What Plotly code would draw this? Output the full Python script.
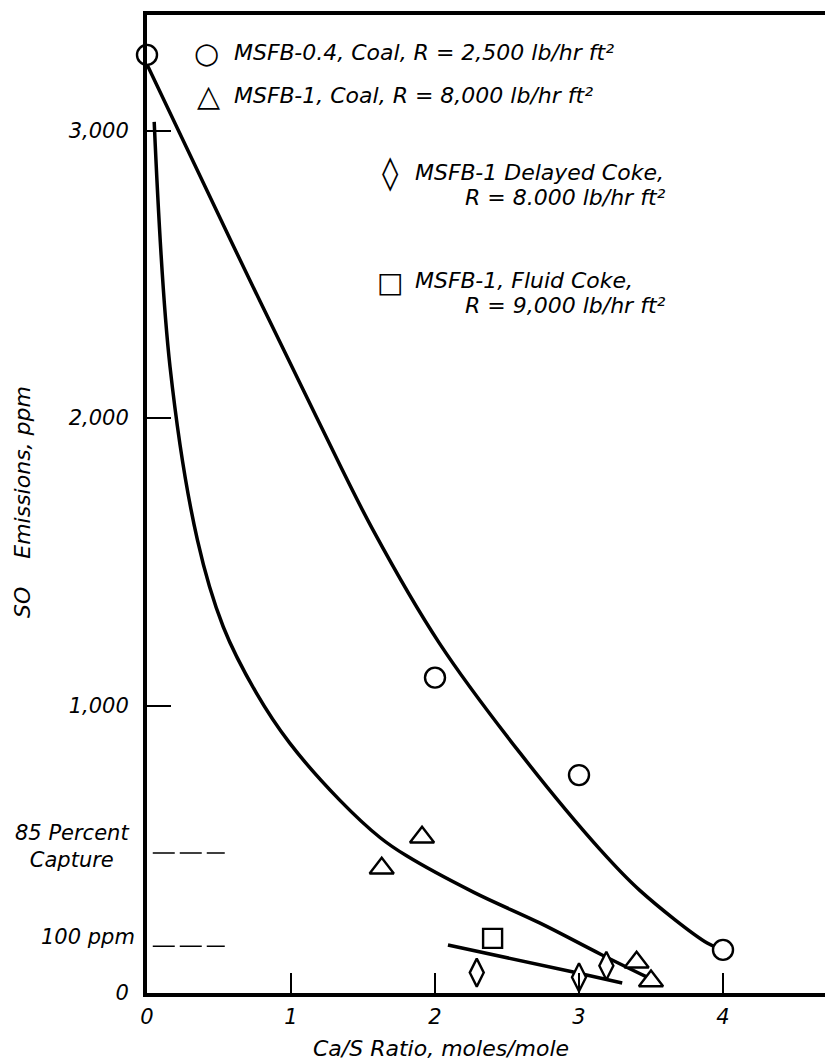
import plotly.graph_objects as go

# ---- data ----
circle_x = [0.0, 2.0, 3.0, 4.0]
circle_y = [3263, 1097, 758, 150]

tri_x = [1.63, 1.91, 3.40, 3.50]
tri_y = [434, 542, 107, 42]

diam_x = [2.29, 3.00, 3.19]
diam_y = [71, 55, 95]

sq_x = [2.40]
sq_y = [190]

curve_a_x = [0.0, 0.58, 1.18, 1.57, 2.03, 2.59, 3.15, 3.42, 3.89, 4.0]
curve_a_y = [3230, 2619, 2000, 1610, 1217, 835, 497, 358, 174, 150]

curve_b_x = [0.05, 0.16, 0.35, 0.53, 0.76, 0.99, 1.34, 1.62, 1.80, 2.27, 2.73, 3.15, 3.47]
curve_b_y = [3030, 2178, 1576, 1273, 1043, 870, 670, 540, 478, 350, 243, 135, 56]

curve_c_x = [2.09, 2.96, 3.30]
curve_c_y = [167, 73, 35]

capture_level = 487
ppm100_level = 163
ref_x = [0.04, 0.54]

x_ticks = [0, 1, 2, 3, 4]
x_labels = ["0", "1", "2", "3", "4"]
y_ticks = [0, 1000, 2000, 3000]
y_labels = ["0", "1,000", "2,000", "3,000"]

# ---- layout geometry (page has an 8px body margin) ----
OFF = 8
W, H = 833 - OFF, 1061 - OFF
L, R, T, B = 147 - OFF, 0, 15 - OFF, 68
PW, PH = W - L - R, H - T - B  # 686 x 978


def px(xp, yp):
    # page pixel -> paper coords
    return (xp - 147) / PW, (993 - yp) / PH


FONT = "DejaVu Sans"
fs = 21
black = "#000000"

fig = go.Figure()

line_style = dict(color=black, width=3.5)
for cx, cy in ((curve_a_x, curve_a_y), (curve_b_x, curve_b_y), (curve_c_x, curve_c_y)):
    fig.add_trace(go.Scatter(x=cx, y=cy, mode="lines",
                             line=dict(shape="spline", smoothing=1.0, **line_style),
                             showlegend=False, hoverinfo="skip"))

for lvl in (capture_level, ppm100_level):
    fig.add_trace(go.Scatter(x=ref_x, y=[lvl, lvl], mode="lines",
                             line=dict(color=black, width=1.5, dash="22px,5px"),
                             showlegend=False, hoverinfo="skip"))

mk_line = dict(color=black, width=2.4)
fig.add_trace(go.Scatter(x=circle_x, y=circle_y, mode="markers", cliponaxis=False,
                         marker=dict(symbol="circle", size=20, color="white", line=mk_line),
                         showlegend=False))
fig.add_trace(go.Scatter(x=tri_x, y=tri_y, mode="markers", cliponaxis=False,
                         marker=dict(symbol="triangle-up", size=21, color="white", line=mk_line),
                         showlegend=False))
fig.add_trace(go.Scatter(x=diam_x, y=diam_y, mode="markers", cliponaxis=False,
                         marker=dict(symbol="diamond-tall", size=20, color="white", line=mk_line),
                         showlegend=False))
fig.add_trace(go.Scatter(x=sq_x, y=sq_y, mode="markers", cliponaxis=False,
                         marker=dict(symbol="square", size=19, color="white", line=mk_line),
                         showlegend=False))

annotations = []


def note(text, xp, yp, xanchor="left", size=fs, align="left", textangle=0):
    xx, yy = px(xp, yp)
    annotations.append(dict(text=text, x=xx, y=yy, xref="paper", yref="paper",
                            xanchor=xanchor, yanchor="middle", showarrow=False,
                            align=align, textangle=textangle,
                            font=dict(family=FONT, size=size, color=black, style="italic")))


def symbol(text, xp, yp, size):
    xx, yy = px(xp, yp)
    annotations.append(dict(text=text, x=xx, y=yy, xref="paper", yref="paper",
                            xanchor="center", yanchor="middle", showarrow=False,
                            font=dict(family=FONT, size=size, color=black, weight="bold")))


LF = 22
# legend
symbol("○", 206, 53, 29)
note("MSFB-0.4, Coal, R = 2,500 lb/hr ft²", 232, 53, size=LF)
symbol("△", 208, 96, 30)
note("MSFB-1, Coal, R = 8,000 lb/hr ft²", 232, 95, size=LF)
symbol("◊", 390, 172, 33)
note("MSFB-1 Delayed Coke,", 413, 172, size=LF)
note("R = 8.000 lb/hr ft²", 668, 197, xanchor="right", size=LF)
symbol("□", 390, 282, 28)
note("MSFB-1, Fluid Coke,", 413, 280, size=LF)
note("R = 9,000 lb/hr ft²", 668, 305, xanchor="right", size=LF)

# reference labels
note("85 Percent<br>Capture", 72, 846, xanchor="center", align="center", size=21)
note("100 ppm", 137, 937, xanchor="right", size=21)

# axis titles
note("Ca/S Ratio, moles/mole", 441, 1048, xanchor="center", size=22)
note("SO\u00a0\u00a0\u00a0\u00a0Emissions, ppm", 22, 502, xanchor="center", size=22, textangle=-90)

fig.update_layout(
    width=W, height=H,
    margin=dict(l=L, r=R, t=T, b=B, pad=0),
    paper_bgcolor="white", plot_bgcolor="white",
    showlegend=False,
    annotations=annotations,
    xaxis=dict(range=[0, PW / 144.0], tickvals=x_ticks, ticktext=x_labels,
               ticks="inside", ticklen=20, tickwidth=2, tickcolor=black,
               showline=True, linewidth=4, linecolor=black, mirror=True,
               showgrid=False, zeroline=False, ticklabelstandoff=2,
               tickfont=dict(family=FONT, size=fs, color=black, style="italic")),
    yaxis=dict(range=[0, PH / 0.2875], tickvals=y_ticks, ticktext=y_labels,
               ticks="inside", ticklen=24, tickwidth=2, tickcolor=black,
               showline=True, linewidth=4, linecolor=black, mirror=False,
               showgrid=False, zeroline=False, ticklabelstandoff=10,
               tickfont=dict(family=FONT, size=fs, color=black, style="italic")),
)

fig.write_html("out.html")
